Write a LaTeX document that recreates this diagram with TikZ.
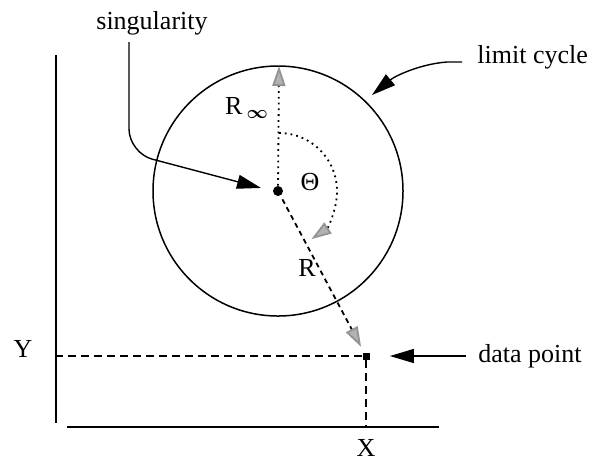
\documentclass[tikz,border=0pt]{standalone}
\usepackage{fontspec}
\setmainfont{Liberation Serif}
\usepackage{amsmath}
\usetikzlibrary{arrows.meta}

\begin{document}
\begin{tikzpicture}[x=0.5pt,y=-0.5pt,every node/.style={font=\fontsize{13}{15}\selectfont,inner sep=0pt},
      blackarrow/.style={-{Triangle[length=12pt,width=7pt]},line width=0.7pt},
      grayarrow/.style={-{Triangle[length=10pt,width=6.5pt,fill=gray!60,color=gray!85]},line width=0.9pt},
      guide/.style={dash pattern=on 4pt off 2.5pt,line width=0.7pt},
      axis/.style={line width=1pt}]
      \useasboundingbox (0,0) rectangle (592,463);
      % axes and limit cycle
      \draw[axis] (56,55) -- (56,423);
      \draw[axis] (67,427) -- (439,427);
      \draw[line width=0.75pt] (278,191) circle[radius=125];
      % points
      \node[circle,fill=black,minimum size=5pt] (c) at (278,191) {};
      \node[rectangle,fill=black,minimum size=3.5pt] (d) at (366,356) {};
      \coordinate (top) at (279,66);
      \coordinate (xaxis) at (366,427);
      % labels
      \node (sing) at (152,23) {singularity};
      \node[anchor=west] (lc) at (477,57) {limit cycle};
      \node[anchor=west] (dp) at (478,356) {data point};
      \node (ylab) at (23,349) {Y};
      \node (xlab) at (366,448) {X};
      \node (rinf) at (247,108) {R\,$_{\boldsymbol{\infty}}$};
      \node (rlab) at (307,268) {R};
      \node (theta) at (310,182) {Θ};
      % guides to the axes
      \draw[guide] (d) -- (56,356);
      \draw[guide] (d) -- (xaxis);
      % radii and angle
      \draw[grayarrow,dotted] (c) -- (top);
      \draw[grayarrow,dash pattern=on 2.5pt off 2pt,shorten <=2pt,shorten >=3pt] (c) -- (d);
      \draw[grayarrow,dotted] (279,133) arc[start angle=-90,end angle=56,radius=58];
      % pointers
      \coordinate (s0) at (129,42);
      \coordinate (l0) at (462,62);
      \coordinate (p0) at (466,356);
      \draw[blackarrow,rounded corners=12pt,shorten >=6pt] (s0) -- (129,153) -- (c.west);
      \draw[blackarrow] (l0) -- (447,62) .. controls (420,64) and (395,76) .. (372,95);
      \draw[blackarrow,shorten >=10pt] (p0) -- (d.east);
    \end{tikzpicture}
\end{document}
